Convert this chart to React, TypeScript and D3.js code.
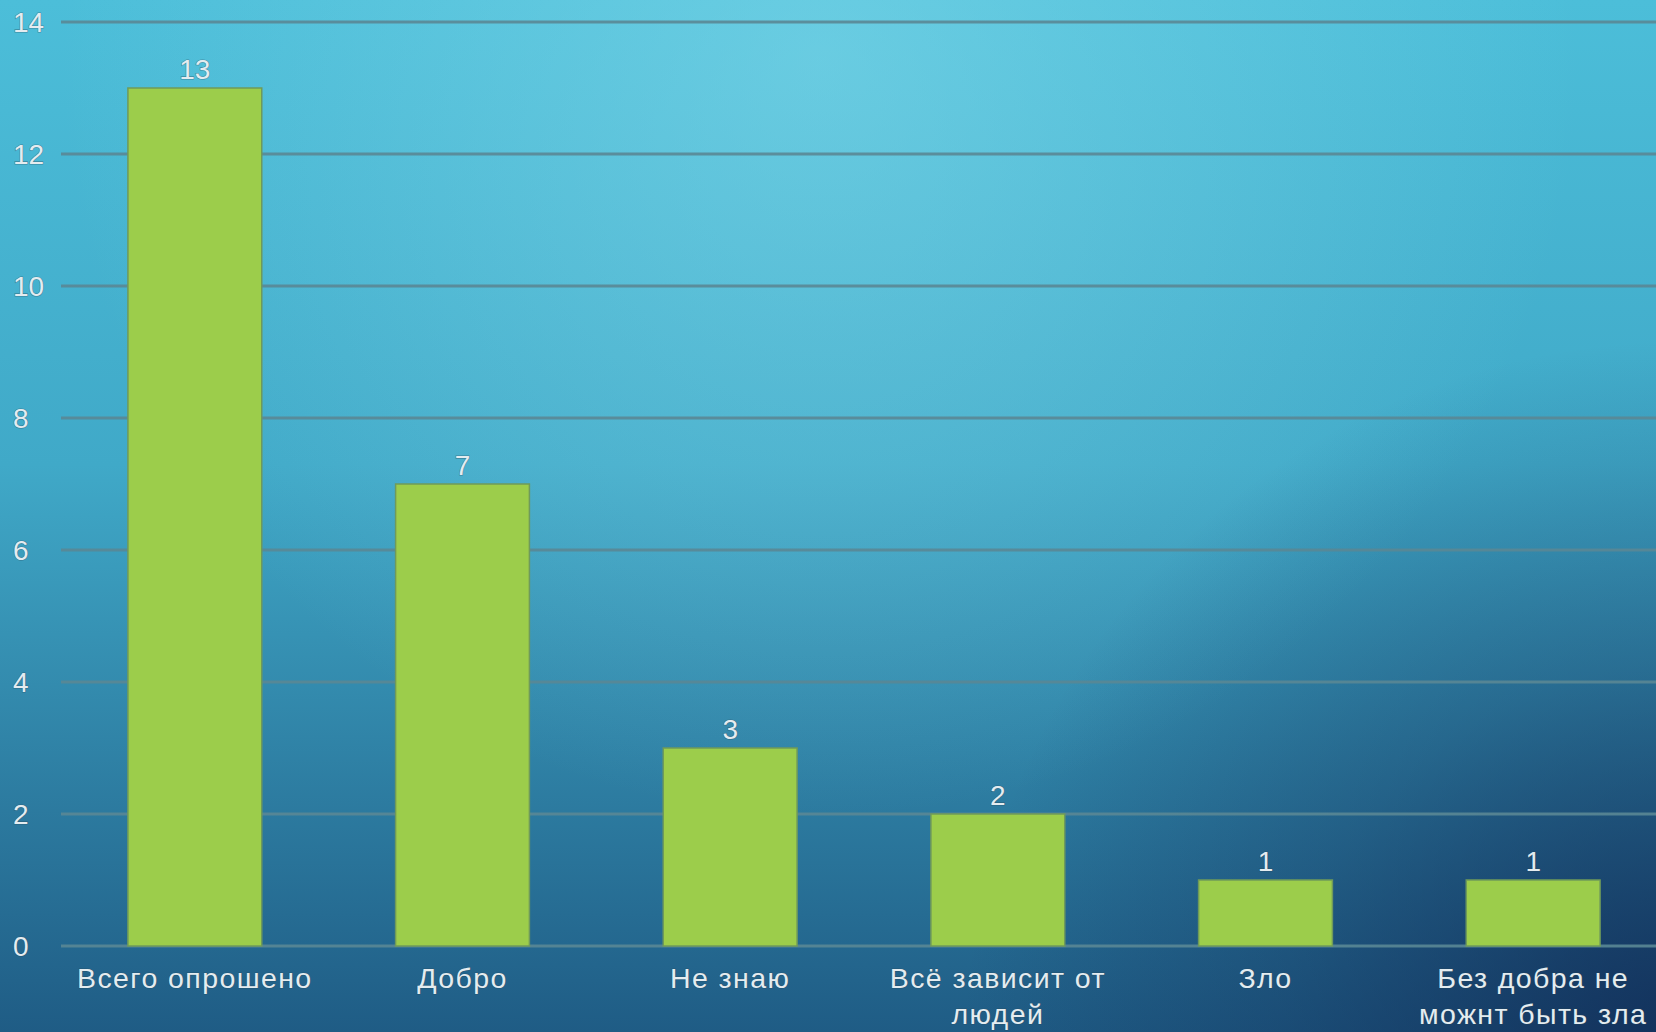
import React, { useEffect, useRef } from 'react';
import * as d3 from 'd3';

const categories = ['Всего опрошено', 'Добро', 'Не знаю', 'Всё зависит от людей', 'Зло', 'Без добра не можнт быть зла'];
const values = [13, 7, 3, 2, 1, 1];
const yTicks = [0, 2, 4, 6, 8, 10, 12, 14];

const W = 1656;
const H = 1032;
const FONT = '"Liberation Sans", Arial, sans-serif';

export default function App() {
  const svgRef = useRef<SVGSVGElement>(null);

  useEffect(() => {
    document.body.style.margin = '0';
    if (!svgRef.current) return;
    const svg = d3.select(svgRef.current);
    svg.selectAll('*').remove();

    const x = d3.scaleBand<string>()
      .domain(categories)
      .range([61, 1667])
      .paddingInner(0.5)
      .paddingOuter(0.25);

    const y = d3.scaleLinear().domain([0, 14]).range([946, 22]);

    // background
    const defs = svg.append('defs');
    const lin = defs.append('linearGradient').attr('id', 'bgLin').attr('x1', 0).attr('y1', 0).attr('x2', 0).attr('y2', 1);
    lin.append('stop').attr('offset', '0%').attr('stop-color', '#4cbed9');
    lin.append('stop').attr('offset', '45%').attr('stop-color', '#40a9c8');
    lin.append('stop').attr('offset', '100%').attr('stop-color', '#1f5c85');

    const hi = defs.append('radialGradient').attr('id', 'bgHi')
      .attr('gradientUnits', 'userSpaceOnUse').attr('cx', 820).attr('cy', 60).attr('r', 760);
    hi.append('stop').attr('offset', '0%').attr('stop-color', '#8ee0ee').attr('stop-opacity', 0.45);
    hi.append('stop').attr('offset', '100%').attr('stop-color', '#8ee0ee').attr('stop-opacity', 0);

    const dk = defs.append('radialGradient').attr('id', 'bgDk')
      .attr('gradientUnits', 'userSpaceOnUse').attr('cx', 1680).attr('cy', 1060).attr('r', 720);
    dk.append('stop').attr('offset', '0%').attr('stop-color', '#0f2550').attr('stop-opacity', 0.8);
    dk.append('stop').attr('offset', '55%').attr('stop-color', '#0f2550').attr('stop-opacity', 0.3);
    dk.append('stop').attr('offset', '100%').attr('stop-color', '#0f2550').attr('stop-opacity', 0);

    svg.append('rect').attr('width', W).attr('height', H).attr('fill', 'url(#bgLin)');
    svg.append('rect').attr('width', W).attr('height', H).attr('fill', 'url(#bgHi)');
    svg.append('rect').attr('width', W).attr('height', H).attr('fill', 'url(#bgDk)');

    // gridlines
    svg.append('g')
      .selectAll('line')
      .data(yTicks)
      .join('line')
      .attr('x1', 61)
      .attr('x2', W)
      .attr('y1', d => y(d))
      .attr('y2', d => y(d))
      .attr('stroke', '#5a8795')
      .attr('stroke-opacity', 0.9)
      .attr('stroke-width', 3);

    const textStyle = (sel: any) => sel
      .attr('font-family', FONT)
      .attr('font-size', 28)
      .attr('fill', '#e4ecf0')
      .attr('stroke', 'rgba(40,70,85,0.45)')
      .attr('stroke-width', 1.2)
      .attr('paint-order', 'stroke');

    // y tick labels
    svg.append('g')
      .selectAll('text')
      .data(yTicks)
      .join('text')
      .attr('x', 13)
      .attr('y', d => y(d))
      .attr('dominant-baseline', 'central')
      .call(textStyle)
      .text(d => d);

    // bars
    svg.append('g')
      .selectAll('rect')
      .data(values)
      .join('rect')
      .attr('x', (d, i) => x(categories[i])!)
      .attr('y', d => y(d))
      .attr('width', x.bandwidth())
      .attr('height', d => y(0) - y(d))
      .attr('fill', '#9ccd4b')
      .attr('stroke', '#6f9a5a')
      .attr('stroke-width', 1.5);

    // value labels
    svg.append('g')
      .selectAll('text')
      .data(values)
      .join('text')
      .attr('x', (d, i) => x(categories[i])! + x.bandwidth() / 2)
      .attr('y', d => y(d) - 9)
      .attr('text-anchor', 'middle')
      .call(textStyle)
      .text(d => d);

    // category labels with wrapping
    const maxW = 262;
    const catG = svg.append('g');
    categories.forEach(cat => {
      const cx = x(cat)! + x.bandwidth() / 2;
      const t = catG.append('text')
        .attr('x', cx)
        .attr('y', 988)
        .attr('text-anchor', 'middle')
        .call(textStyle)
        .attr('font-size', 28.5)
        .attr('letter-spacing', 1.4);
      const words = cat.split(' ');
      let line: string[] = [];
      let tspan = t.append('tspan').attr('x', cx).attr('dy', 0);
      words.forEach(w => {
        line.push(w);
        tspan.text(line.join(' '));
        if ((tspan.node() as SVGTSpanElement).getComputedTextLength() > maxW && line.length > 1) {
          line.pop();
          tspan.text(line.join(' '));
          line = [w];
          tspan = t.append('tspan').attr('x', cx).attr('dy', 36).text(w);
        }
      });
    });
  }, []);

  return (
    <div style={{ position: 'absolute', left: 0, top: 0, width: W, height: H, overflow: 'hidden' }}>
      <svg ref={svgRef} width={W} height={H} style={{ display: 'block' }} />
    </div>
  );
}
